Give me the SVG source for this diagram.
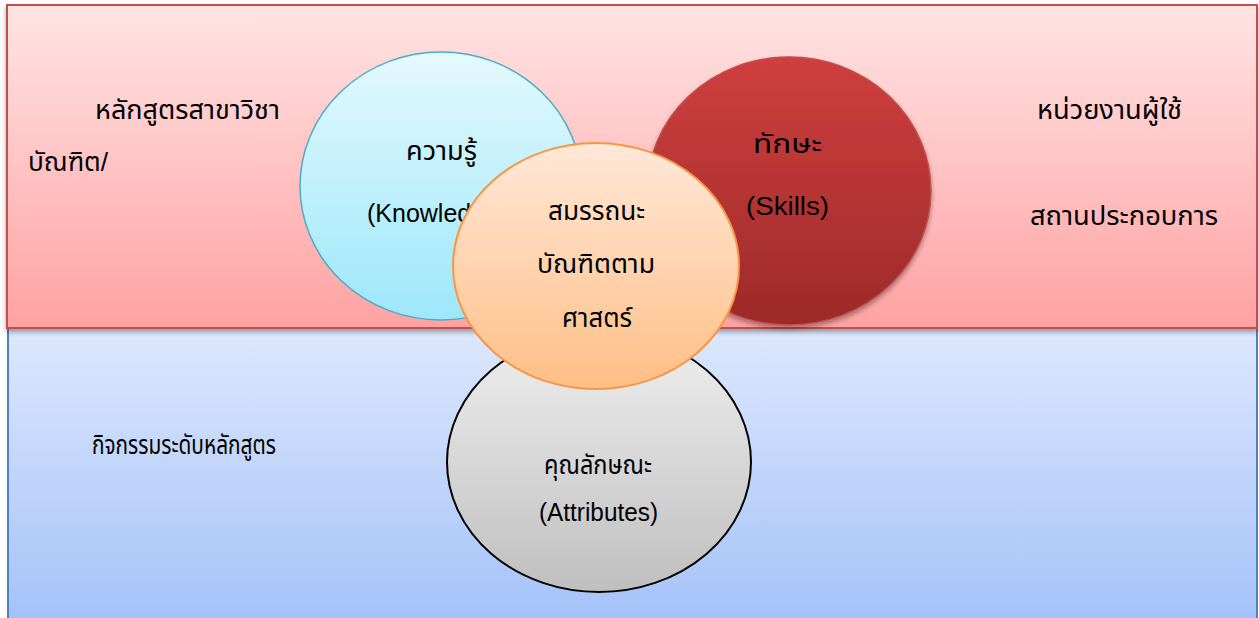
<svg xmlns="http://www.w3.org/2000/svg" width="1259" height="618" viewBox="0 0 1259 618">
<defs>
<linearGradient id="gBlueBg" x1="0" y1="0" x2="0" y2="1"><stop offset="0" stop-color="#dfe9fd"/><stop offset="1" stop-color="#a3c1f8"/></linearGradient>
<linearGradient id="gRedBg" x1="0" y1="0" x2="0" y2="1"><stop offset="0" stop-color="#ffe4e4"/><stop offset="1" stop-color="#ffa2a2"/></linearGradient>
<linearGradient id="gCyan" x1="0" y1="0" x2="0" y2="1"><stop offset="0" stop-color="#e4f9fe"/><stop offset="1" stop-color="#9de7fa"/></linearGradient>
<linearGradient id="gRed" x1="0" y1="0" x2="0" y2="1"><stop offset="0" stop-color="#cf3f3e"/><stop offset="1" stop-color="#9d2a2a"/></linearGradient>
<linearGradient id="gGray" x1="0" y1="0" x2="0" y2="1"><stop offset="0" stop-color="#efefef"/><stop offset="1" stop-color="#bfbfbf"/></linearGradient>
<linearGradient id="gOrange" x1="0" y1="0" x2="0" y2="1"><stop offset="0" stop-color="#ffe8d8"/><stop offset="1" stop-color="#ffbf86"/></linearGradient>
<filter id="shadow" x="-10%" y="-10%" width="120%" height="130%"><feDropShadow dx="0" dy="3" stdDeviation="2.5" flood-color="#000" flood-opacity="0.35"/></filter>
</defs>
<style>
text{font-family:"Liberation Sans","Noto Sans Thai","Noto Sans",sans-serif;fill:#000;}
.th{font-size:26px;}
.en{font-size:25px;}
.c{text-anchor:middle;}
</style>
<rect width="1259" height="618" fill="#ffffff"/>
<g id="bg-activities">
<rect x="8" y="318" width="1249" height="310" fill="url(#gBlueBg)" stroke="#4f81bd" stroke-width="2"/>
<text class="th" x="92" y="454" font-size="25.5" textLength="184" lengthAdjust="spacingAndGlyphs">กิจกรรมระดับหลักสูตร</text>
</g>
<g id="bg-program">
<rect x="7" y="5" width="1250" height="323" fill="url(#gRedBg)" stroke="#c0504d" stroke-width="2" filter="url(#shadow)"/>
<text class="th" x="95" y="119" textLength="185" lengthAdjust="spacingAndGlyphs">หลักสูตรสาขาวิชา</text>
<text class="th" x="28" y="171" textLength="80" lengthAdjust="spacingAndGlyphs">บัณฑิต/</text>
<text class="th" x="1037" y="119" textLength="145" lengthAdjust="spacingAndGlyphs">หน่วยงานผู้ใช้</text>
<text class="th" x="1030" y="225" textLength="188" lengthAdjust="spacingAndGlyphs">สถานประกอบการ</text>
</g>
<g id="knowledge">
<ellipse cx="441" cy="186" rx="141" ry="134" fill="url(#gCyan)" stroke="#4bacc6" stroke-width="1.5"/>
<text class="th" x="406" y="160" textLength="71" lengthAdjust="spacingAndGlyphs">ความรู้</text>
<text class="en" x="367" y="222" font-size="26">(Knowledge)</text>
</g>
<g id="skills">
<ellipse cx="789" cy="191" rx="142" ry="134" fill="url(#gRed)" stroke="#c0504d" stroke-width="1.5" filter="url(#shadow)"/>
<text class="th" x="753" y="153" font-size="28" textLength="69" lengthAdjust="spacingAndGlyphs">ทักษะ</text>
<text class="en" x="746" y="215" font-size="28" textLength="83" lengthAdjust="spacingAndGlyphs">(Skills)</text>
</g>
<g id="attributes">
<ellipse cx="599" cy="462" rx="152" ry="130" fill="url(#gGray)" stroke="#000" stroke-width="2"/>
<text class="th" x="544" y="474" textLength="108" lengthAdjust="spacingAndGlyphs">คุณลักษณะ</text>
<text class="en" x="539" y="521" textLength="119" lengthAdjust="spacingAndGlyphs">(Attributes)</text>
</g>
<g id="competency">
<ellipse cx="596" cy="266" rx="143" ry="123" fill="url(#gOrange)" stroke="#f79646" stroke-width="2"/>
<text class="th" x="548" y="220" textLength="97" lengthAdjust="spacingAndGlyphs">สมรรถนะ</text>
<text class="th" x="537" y="273" textLength="118" lengthAdjust="spacingAndGlyphs">บัณฑิตตาม</text>
<text class="th" x="562" y="327" textLength="70" lengthAdjust="spacingAndGlyphs">ศาสตร์</text>
</g>
<g id="connectors"></g>
</svg>
